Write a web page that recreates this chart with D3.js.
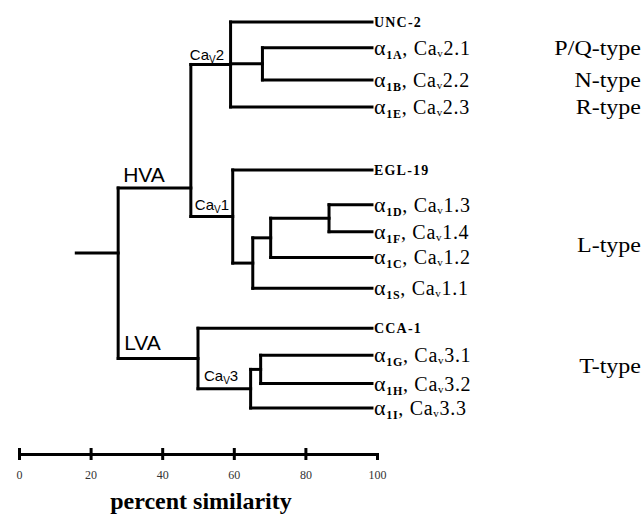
<!DOCTYPE html>
<html>
<head>
<meta charset="utf-8">
<script src="https://d3js.org/d3.v7.min.js"></script>
<style>
  body { margin: 0; background: #fff; }
  svg { display: block; }
  .serif { font-family: "Liberation Serif", "Times New Roman", serif; }
  .sans { font-family: "Liberation Sans", Arial, sans-serif; }
</style>
</head>
<body>
<svg id="chart" width="643" height="518"></svg>
<script>
// leaves, top to bottom
var leafIds   = ["UNC-2", "a1A", "a1B", "a1E", "EGL-19", "a1D", "a1F", "a1C", "a1S", "CCA-1", "a1G", "a1H", "a1I"];
var leafRows  = [0, 1, 2.25, 3.3, 5.75, 7.1, 8.15, 9.15, 10.35, 11.9, 12.95, 14.05, 15];
var leafSubs  = [null, "1A", "1B", "1E", null, "1D", "1F", "1C", "1S", null, "1G", "1H", "1I"];
var leafCav   = [null, "2.1", "2.2", "2.3", null, "1.3", "1.4", "1.2", "1.1", null, "3.1", "3.2", "3.3"];
var leafPct   = 98.6;

// internal nodes (percent similarity where branches join)
var nodeIds      = ["root", "HVA", "LVA", "Cav2", "AB", "Cav1", "DFCS", "DFC", "DF", "Cav3", "GH"];
var nodePct      = [27.7, 48, 50, 59.1, 68, 59.7, 65.3, 70.3, 86.6, 64.7, 67.5];
var nodeChildren = [["HVA", "LVA"], ["Cav2", "Cav1"], ["CCA-1", "Cav3"], ["UNC-2", "AB", "a1E"], ["a1A", "a1B"],
                    ["EGL-19", "DFCS"], ["DFC", "a1S"], ["DF", "a1C"], ["a1D", "a1F"], ["GH", "a1I"], ["a1G", "a1H"]];
var rootRow = 8.98, hvaRow = 6.45;
var rootStartPct = 16;

var typeLabels = ["P/Q-type", "N-type", "R-type", "L-type", "T-type"];
var typeRows   = [1, 2.25, 3.3, 8.65, 13.35];

var axisTicks = [0, 20, 40, 60, 80, 100];

var svg = d3.select("#chart");
var x = d3.scaleLinear().domain([0, 100]).range([19, 377]);
var y = d3.scaleLinear().domain([0, 15]).range([22, 408]);

// build node table
var nodes = {};
leafIds.forEach(function(id, i) { nodes[id] = {id: id, pct: leafPct, row: leafRows[i], leaf: true}; });
nodeIds.forEach(function(id, i) { nodes[id] = {id: id, pct: nodePct[i], children: nodeChildren[i]}; });
function rowOf(id) {
  var n = nodes[id];
  if (n.row !== undefined) return n.row;
  if (id == "root") n.row = rootRow;
  else if (id == "HVA") n.row = hvaRow;
  else {
    var rows = n.children.map(rowOf);
    n.row = (d3.min(rows) + d3.max(rows)) / 2;
  }
  return n.row;
}
nodeIds.forEach(rowOf);

var segs = [];
nodeIds.forEach(function(id) {
  var n = nodes[id];
  var rows = n.children.map(rowOf);
  segs.push({x1: n.pct, x2: n.pct, y1: d3.min(rows), y2: d3.max(rows)});
  n.children.forEach(function(c) {
    segs.push({x1: n.pct, x2: nodes[c].pct, y1: nodes[c].row, y2: nodes[c].row});
  });
});
segs.push({x1: rootStartPct, x2: nodes.root.pct, y1: nodes.root.row, y2: nodes.root.row});

svg.append("g").selectAll("line").data(segs).enter().append("line")
  .attr("x1", function(d) { return x(d.x1); })
  .attr("x2", function(d) { return x(d.x2); })
  .attr("y1", function(d) { return y(d.y1); })
  .attr("y2", function(d) { return y(d.y2); })
  .attr("stroke", "#000").attr("stroke-width", 3).attr("stroke-linecap", "square");

// leaf labels
var lab = svg.append("g").selectAll("text").data(leafIds).enter().append("text")
  .attr("class", "serif")
  .attr("x", x(leafPct) + 2)
  .attr("y", function(d, i) { return y(leafRows[i]) + (leafSubs[i] ? 7 : 5); })
  .attr("fill", "#000");
lab.each(function(d, i) {
  var t = d3.select(this);
  if (!leafSubs[i]) {
    t.attr("font-size", 14).attr("font-weight", "bold").attr("letter-spacing", 1.2).text(d.toUpperCase());
    return;
  }
  t.attr("letter-spacing", 0.7);
  t.append("tspan").attr("font-size", 22).text("\u03b1");
  t.append("tspan").attr("font-size", 12).attr("font-weight", "bold").attr("dy", 4).text(leafSubs[i]);
  t.append("tspan").attr("font-size", 20).attr("dy", -4).text(leafSubs[i] == "1S" || leafSubs[i] == "1I" ? ",  Ca" : ", Ca");
  t.append("tspan").attr("font-size", 11).attr("dy", 2).text("v");
  t.append("tspan").attr("font-size", 20).attr("dy", -2).text(leafCav[i]);
});

// channel type labels
svg.append("g").selectAll("text").data(typeLabels).enter().append("text")
  .attr("class", "serif")
  .attr("transform", function(d, i) { return "translate(641," + (y(typeRows[i]) + 7) + ") scale(1.2,1)"; })
  .attr("text-anchor", "end")
  .attr("font-size", 20)
  .text(function(d) { return d; });

// clade labels
function cavLabel(px, py, num) {
  var t = svg.append("text").attr("class", "sans").attr("x", px).attr("y", py).attr("font-size", 15);
  t.append("tspan").text("Ca");
  t.append("tspan").attr("font-size", 10).attr("dy", 3).text("V");
  t.append("tspan").attr("dy", -3).text(num);
}
cavLabel(x(nodes.HVA.pct) - 1, y(nodes.Cav2.row) - 4, "2");
cavLabel(x(nodes.HVA.pct) + 4, y(nodes.Cav1.row) - 7, "1");
cavLabel(x(nodes.LVA.pct) + 6, y(nodes.Cav3.row) - 8, "3");
svg.append("text").attr("class", "sans").attr("x", x(nodes.root.pct) + 5).attr("y", y(nodes.HVA.row) - 6)
  .attr("font-size", 21).text("HVA");
svg.append("text").attr("class", "sans").attr("x", x(nodes.root.pct) + 6).attr("y", y(nodes.LVA.row) - 8)
  .attr("font-size", 21).text("LVA");

// scale bar
var axis = d3.axisBottom(x).tickValues(axisTicks).tickSizeOuter(0).tickSize(6).tickPadding(10);
var ax = svg.append("g").attr("transform", "translate(0,454)").call(axis);
ax.select(".domain").attr("stroke", "#000").attr("stroke-width", 3);
ax.selectAll(".tick line").attr("y1", -6).attr("y2", 6).attr("stroke", "#000").attr("stroke-width", 3)
  .attr("display", function(d) { return d == 100 ? "none" : null; });
ax.selectAll(".tick text").attr("class", "serif").attr("font-size", 12).attr("fill", "#333");

svg.append("text").attr("class", "serif").attr("x", 201).attr("y", 509).attr("text-anchor", "middle")
  .attr("font-size", 24).attr("font-weight", "bold").text("percent similarity");
</script>
</body>
</html>
